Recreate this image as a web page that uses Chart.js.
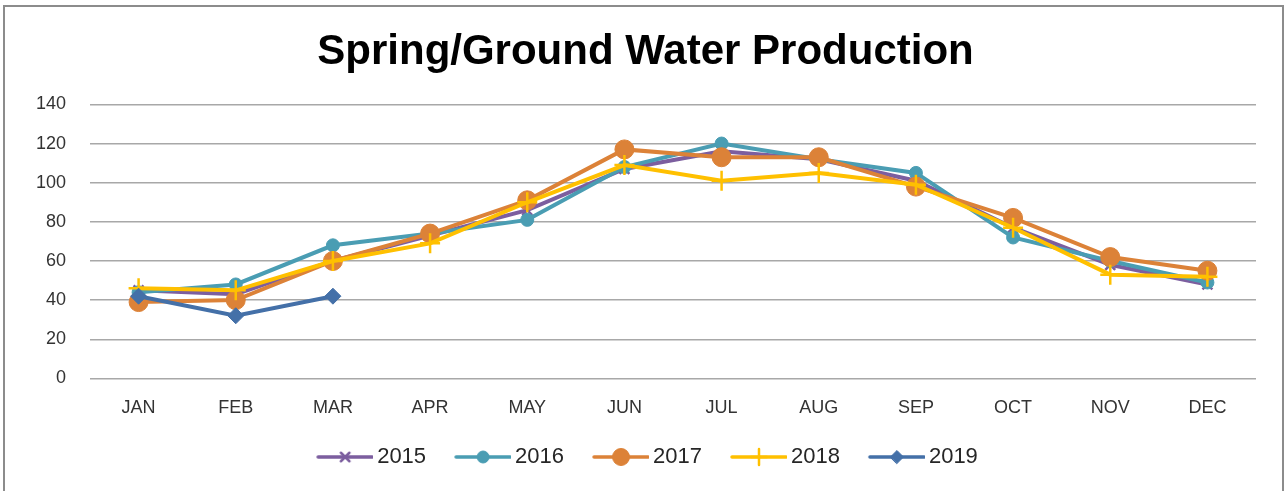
<!DOCTYPE html>
<html><head><meta charset="utf-8">
<script src="https://cdn.jsdelivr.net/npm/chart.js@4.4.1/dist/chart.umd.min.js"></script>
<style>
html,body{margin:0;padding:0;background:#fff;overflow:hidden}
#wrap{position:relative;width:1287px;height:491px}
#frame{position:absolute;left:3px;top:5px;width:1277px;height:500px;border:2px solid #8c8c8c;}
canvas{position:absolute;left:0;top:0}
</style></head><body>
<div id="wrap"><div id="frame"></div><canvas id="c" width="1287" height="491"></canvas></div>
<script>
const months = ['JAN','FEB','MAR','APR','MAY','JUN','JUL','AUG','SEP','OCT','NOV','DEC'];
const years = ['2015','2016','2017','2018','2019'];
const v2015 = [45, 43, 60, 73, 86, 107, 116, 112, 101, 77, 58, 48];
const v2016 = [44, 48, 68, 74, 81, 108, 120, 112, 105, 72, 60, 49];
const v2017 = [39, 40, 60, 74, 91, 117, 113, 113, 98, 82, 62, 55];
const v2018 = [46, 45, 60, 69, 90, 109, 101, 105, 99, 77, 53, 52];
const v2019 = [42, 32, 42];
const yTicks = [0, 20, 40, 60, 80, 100, 120, 140];

const colors = ['#7C5E9F', '#4A9DB3', '#DC8238', '#FFC000', '#4470A8'];
const styles = [
  {pointStyle:'crossRot', radius:7, borderWidth:2.5, legendRadius:6},
  {pointStyle:'circle', radius:6.5, borderWidth:1, legendRadius:6},
  {pointStyle:'circle', radius:9.5, borderWidth:1, legendRadius:8.5},
  {pointStyle:'cross', radius:10, borderWidth:2.5, legendRadius:8},
  {pointStyle:'rectRot', radius:8, borderWidth:1, legendRadius:6.5}
];
const series = [v2015, v2016, v2017, v2018, v2019];

function legendIcon(i){
  const c = document.createElement('canvas');
  c.width = 84; c.height = 24;
  const g = c.getContext('2d');
  g.strokeStyle = colors[i]; g.fillStyle = colors[i];
  g.lineWidth = 3.5; g.lineCap = 'round';
  g.beginPath(); g.moveTo(29, 12); g.lineTo(83, 12); g.stroke();
  const s = styles[i];
  g.lineWidth = s.borderWidth;
  Chart.helpers.drawPoint(g, {pointStyle: s.pointStyle, radius: s.legendRadius, borderWidth: s.borderWidth, rotation:0}, 56, 12);
  return c;
}

const datasets = series.map((d, i) => ({
  label: years[i],
  data: d,
  borderColor: colors[i],
  backgroundColor: colors[i],
  borderWidth: 4,
  tension: 0,
  pointStyle: styles[i].pointStyle,
  pointRadius: styles[i].radius,
  pointBorderWidth: styles[i].borderWidth,
  pointBorderColor: colors[i],
  pointBackgroundColor: colors[i],
  order: 5 - i
}));

const icons = years.map(() => null);

const shiftLegend = {
  id: 'shiftLegend',
  afterLayout(ch) { if (ch.legend) { ch.legend.right -= 17; } }
};

const chart = new Chart(document.getElementById('c'), {
  type: 'line',
  data: { labels: months, datasets },
  plugins: [shiftLegend],
  options: {
    responsive: false,
    animation: false,
    devicePixelRatio: 1,
    layout: { padding: { top: 0, left: 35, right: 31, bottom: 13 } },
    plugins: {
      title: {
        display: true,
        text: 'Spring/Ground Water Production',
        color: '#000',
        font: { family: '"Liberation Sans", Arial, sans-serif', size: 42, weight: 'bold' },
        padding: { top: 27, bottom: 27 }
      },
      legend: {
        position: 'bottom',
        labels: {
          usePointStyle: true,
          pointStyleWidth: 70,
          padding: 8,
          color: '#262626',
          font: { family: '"Liberation Sans", Arial, sans-serif', size: 22 },
          generateLabels: (ch) => ch.data.datasets.map((ds, i) => ({
            text: ds.label,
            pointStyle: (icons[i] = icons[i] || legendIcon(i)),
            fillStyle: ds.backgroundColor,
            strokeStyle: ds.borderColor,
            lineWidth: 0,
            hidden: false,
            datasetIndex: i,
            fontColor: '#262626'
          }))
        }
      },
      tooltip: { enabled: false }
    },
    scales: {
      x: {
        offset: true,
        grid: { display: false, drawTicks: false, offset: true },
        border: { display: false },
        ticks: { padding: 19, color: '#333333', font: { family: '"Liberation Sans", Arial, sans-serif', size: 18 } }
      },
      y: {
        min: 0, max: 140,
        afterBuildTicks: (s) => { s.ticks = yTicks.map(v => ({ value: v })); },
        afterFit: (s) => { s.width = 55; },
        grid: { color: '#a8a8a8', lineWidth: 1.5, drawTicks: false },
        border: { display: false },
        ticks: { padding: 24, color: '#333333', font: { family: '"Liberation Sans", Arial, sans-serif', size: 18 } }
      }
    }
  }
});
</script>
</body></html>
